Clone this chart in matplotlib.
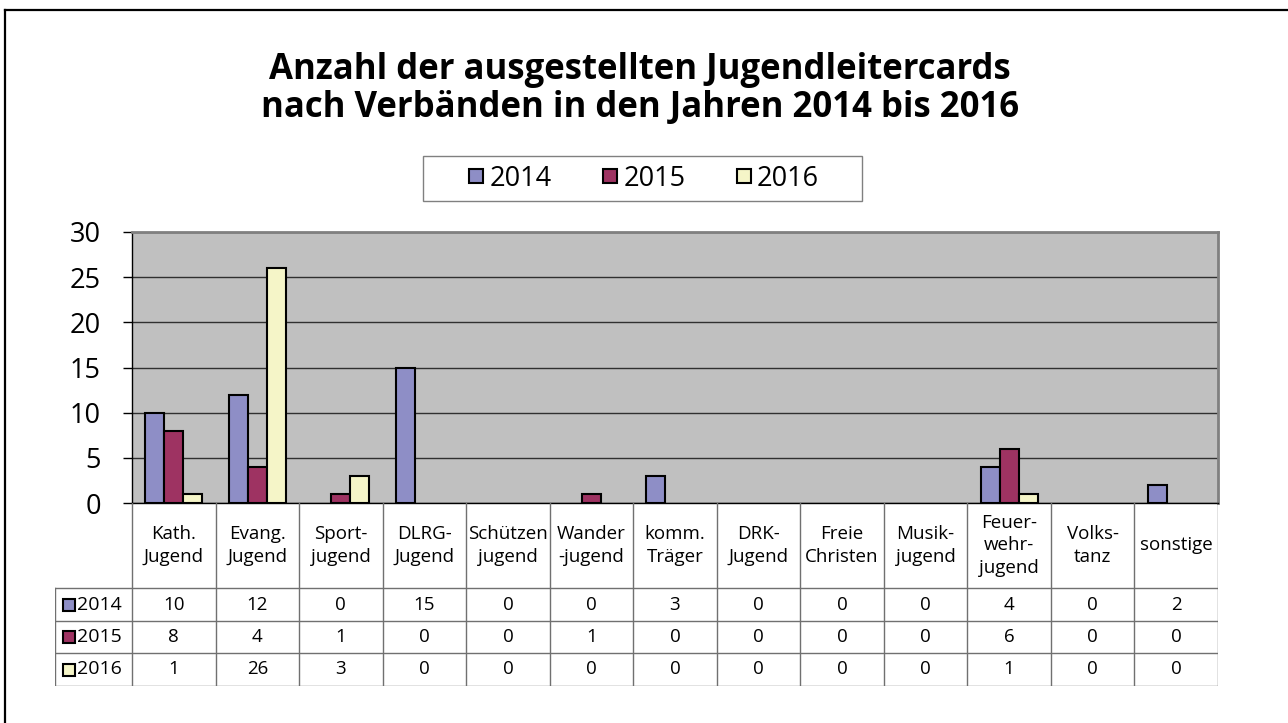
import numpy as np
import matplotlib
matplotlib.use('Agg')
import matplotlib.pyplot as plt
from matplotlib.patches import Rectangle
from matplotlib.lines import Line2D

plt.rcParams['font.family'] = ['Open Sans', 'DejaVu Sans']

# data
categories = ['Kath.\nJugend', 'Evang.\nJugend', 'Sport-\njugend', 'DLRG-\nJugend',
              'Schützen\njugend', 'Wander\n-jugend', 'komm.\nTräger', 'DRK-\nJugend',
              'Freie\nChristen', 'Musik-\njugend', 'Feuer-\nwehr-\njugend',
              'Volks-\ntanz', 'sonstige']
years = ['2014', '2015', '2016']
v2014 = [10, 12, 0, 15, 0, 0, 3, 0, 0, 0, 4, 0, 2]
v2015 = [8, 4, 1, 0, 0, 1, 0, 0, 0, 0, 6, 0, 0]
v2016 = [1, 26, 3, 0, 0, 0, 0, 0, 0, 0, 1, 0, 0]
series = [v2014, v2015, v2016]
colors = ['#8E8EC6', '#9E3362', '#F5F5C8']
title1 = 'Anzahl der ausgestellten Jugendleitercards'
title2 = 'nach Verbänden in den Jahren 2014 bis 2016'

W, H = 1288, 723


def fx(x):
    return x / W


def fy(y):
    return 1 - y / H


fig = plt.figure(figsize=(W / 100, H / 100), dpi=100)

# outer frame (only left and top edge visible)
fig.add_artist(Line2D([fx(4.5), fx(4.5)], [fy(10), 0], transform=fig.transFigure,
                      color='black', lw=1.6))
fig.add_artist(Line2D([fx(4.5), 1], [fy(10), fy(10)], transform=fig.transFigure,
                      color='black', lw=1.6))

# title
fig.text(fx(640), fy(70), title1, fontsize=25, weight='bold', ha='center', va='center')
fig.text(fx(640), fy(108), title2, fontsize=25, weight='bold', ha='center', va='center')

# main plot
left, right, top, bottom = 132, 1218, 232, 503
ax = fig.add_axes([fx(left), fy(bottom), (right - left) / W, (bottom - top) / H])
x = np.arange(len(categories))
bw = 0.228
for i, vals in enumerate(series):
    vals = np.array(vals)
    keep = vals > 0
    ax.bar(x[keep] + (i - 1) * bw, vals[keep], bw, color=colors[i],
           edgecolor='black', lw=1.5, zorder=3)

ax.set_xlim(-0.5, len(categories) - 0.5)
ax.set_ylim(0, 30)
ax.set_yticks(range(0, 31, 5))
ax.set_xticks([])
ax.set_facecolor('#C0C0C0')
ax.yaxis.grid(True, color='#303030', lw=1)
ax.set_axisbelow(True)
for s in ['left', 'bottom']:
    ax.spines[s].set_color('black')
    ax.spines[s].set_linewidth(1)
for s in ['top', 'right']:
    ax.spines[s].set_color('#808080')
    ax.spines[s].set_linewidth(2)
ax.tick_params(axis='y', length=6.5, width=1, pad=16, labelsize=19.5)

# legend
fig.add_artist(Rectangle((fx(423), fy(201)), 439 / W, 45 / H, transform=fig.transFigure,
                         facecolor='white', edgecolor='#808080', lw=1))
handles = [Line2D([], [], marker='s', linestyle='none', markersize=10.5,
                  markerfacecolor=c, markeredgecolor='black', mew=1.5) for c in colors]
fig.legend(handles, years, loc='center', bbox_to_anchor=(fx(644), fy(178.5)),
           ncol=3, frameon=False, fontsize=19.5, handlelength=0.55,
           handletextpad=0.2, columnspacing=1.9)

# data table under the plot
tleft, tbottom = 55, 686
cw = (right - left) / len(categories)
hdr = (left - tleft) / cw
rows_y = [588, 621, 653, 686]
tax = fig.add_axes([fx(tleft), fy(tbottom), (right - tleft) / W, (tbottom - bottom) / H])
tax.set_xlim(-0.5 - hdr, len(categories) - 0.5)
tax.set_ylim(tbottom, bottom)
tax.axis('off')

lc = '#707070'
for yy in rows_y:
    tax.plot([-0.5 - hdr, len(categories) - 0.5], [yy, yy], color=lc, lw=1)
for k in range(len(categories) + 1):
    tax.plot([k - 0.5, k - 0.5], [bottom, tbottom], color=lc, lw=1)
tax.plot([-0.5 - hdr, -0.5 - hdr], [rows_y[0], tbottom], color=lc, lw=1)

for k, cat in enumerate(categories):
    tax.text(k, (bottom + rows_y[0]) / 2, cat, ha='center', va='center',
             fontsize=13.5, linespacing=1.3)

for r, vals in enumerate(series):
    yc = (rows_y[r] + rows_y[r + 1]) / 2
    for k, v in enumerate(vals):
        tax.text(k, yc, str(v), ha='center', va='center', fontsize=13.5)
    tax.plot([-0.5 - hdr + 14 / cw], [yc], marker='s', markersize=9,
             markerfacecolor=colors[r], markeredgecolor='black', mew=1.5)
    tax.text(-0.5 - hdr + 22 / cw, yc, years[r], ha='left', va='center', fontsize=14)

fig.savefig('out.png', dpi=100)
